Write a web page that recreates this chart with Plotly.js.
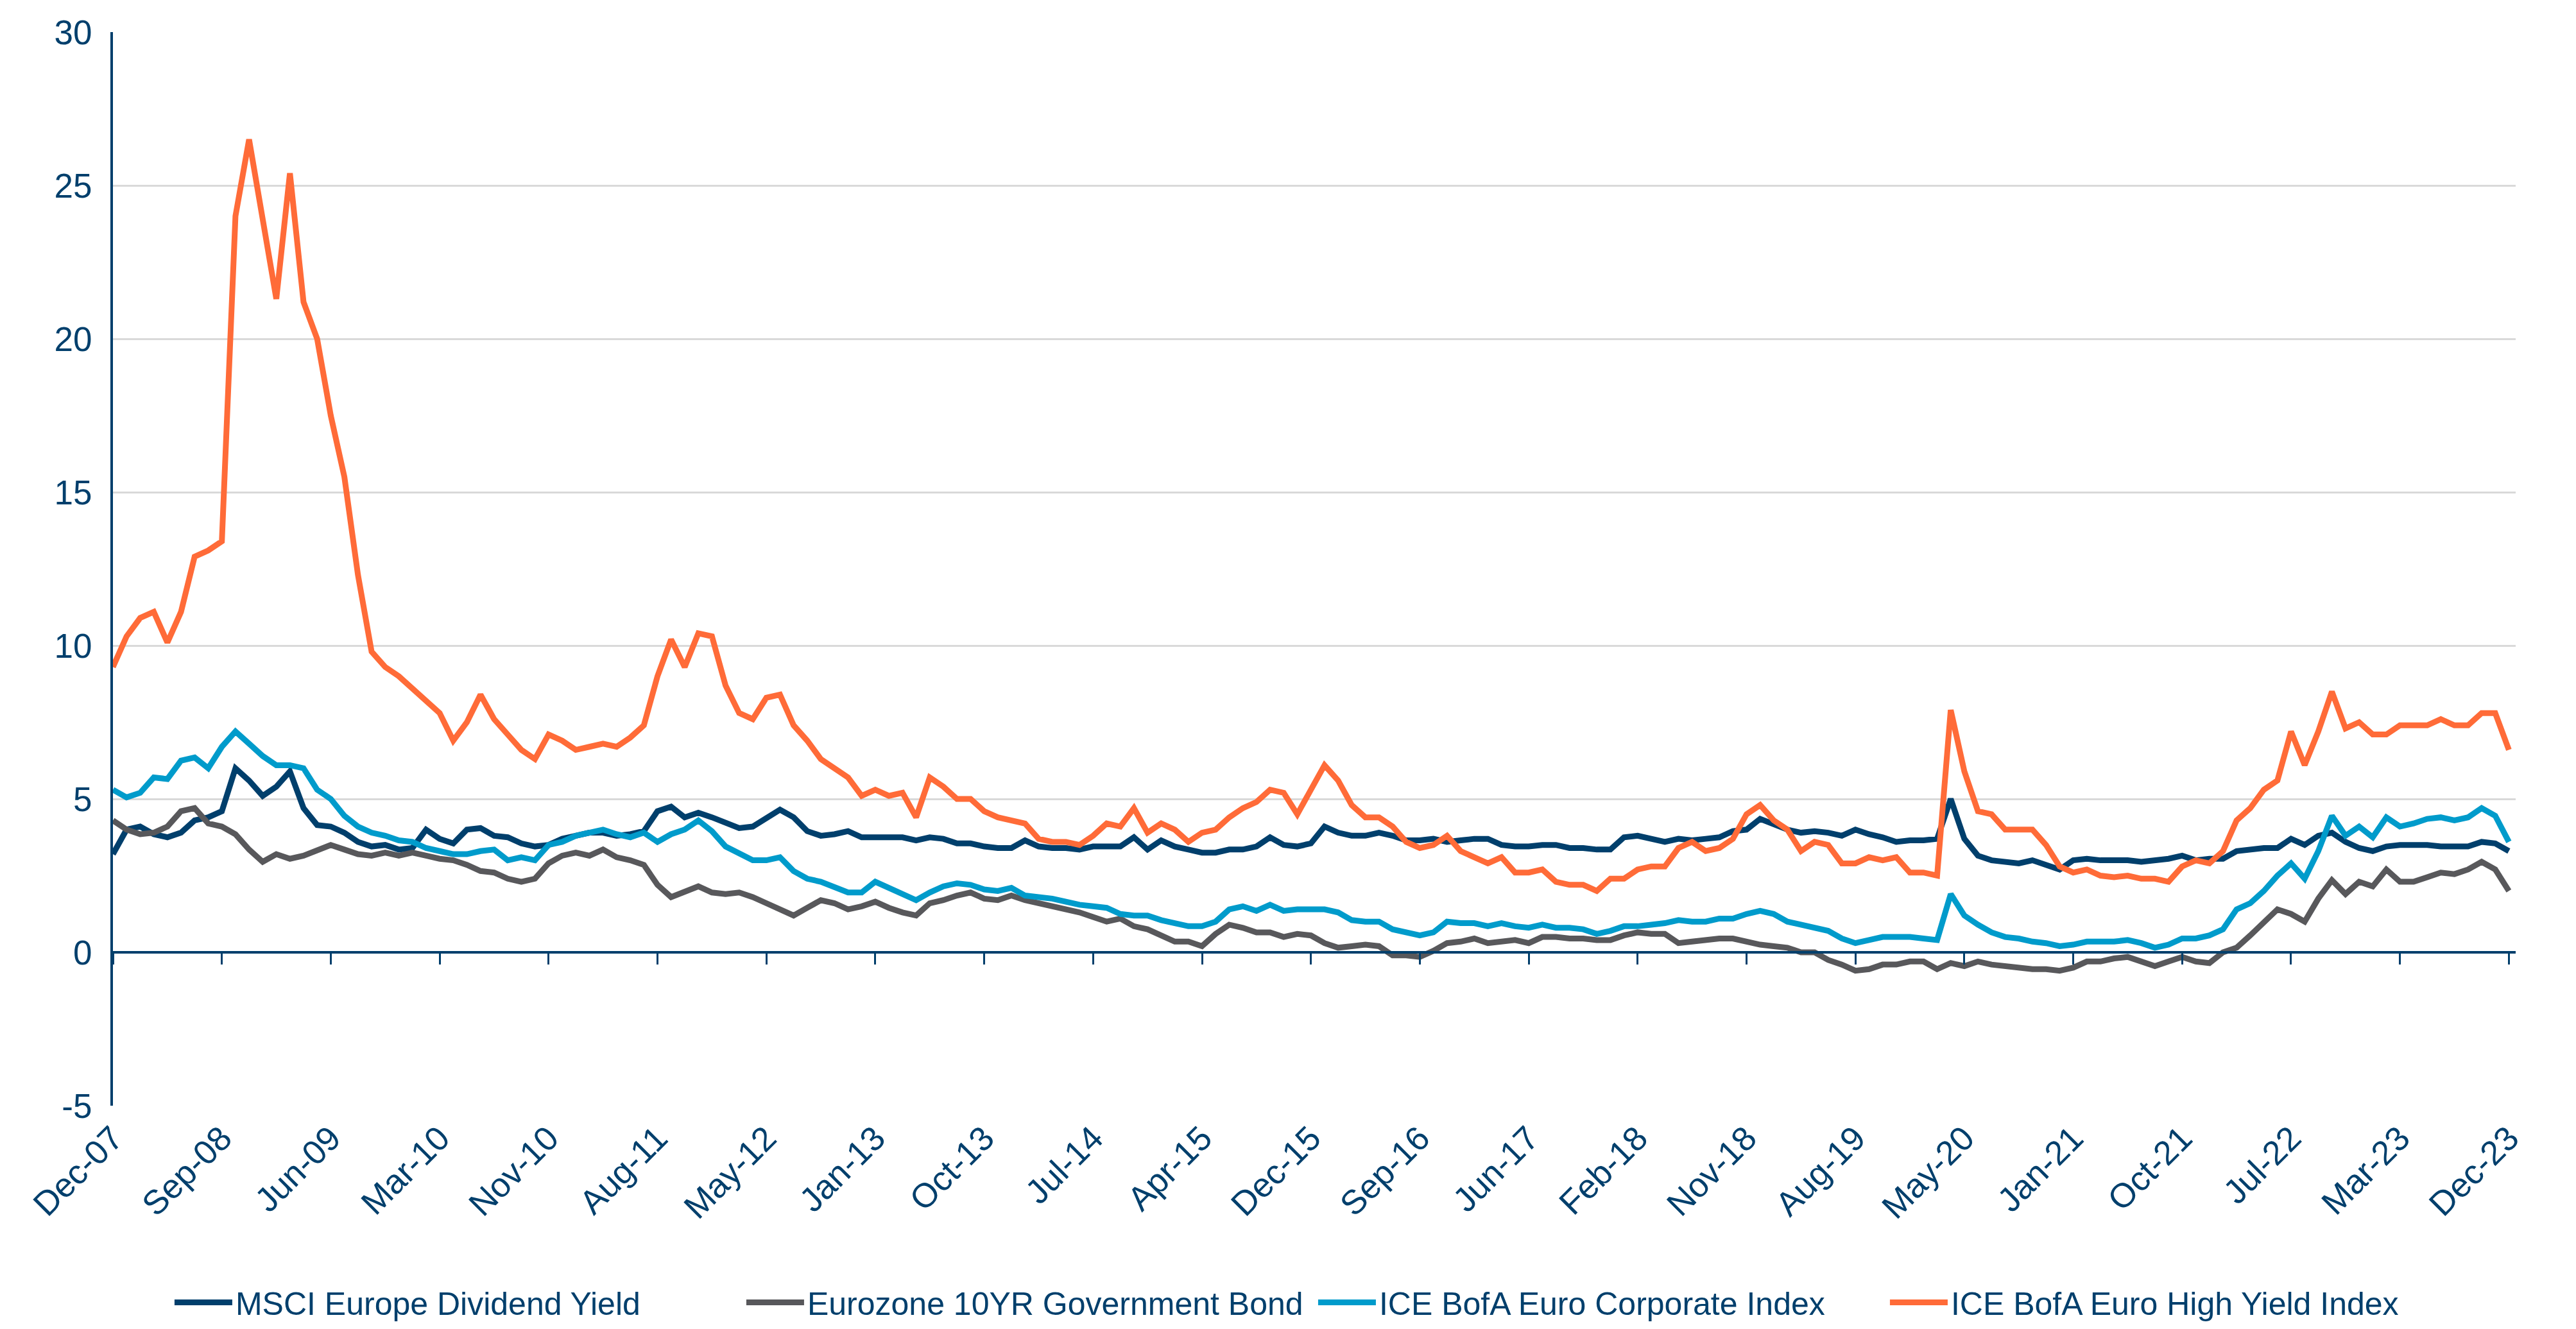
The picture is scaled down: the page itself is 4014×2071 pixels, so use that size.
<!DOCTYPE html>
<html>
<head>
<meta charset="utf-8">
<script src="https://cdn.plot.ly/plotly-3.0.1.min.js"></script>
<style>
  html, body { margin: 0; padding: 0; background: #ffffff; }
  #chart { width: 4014px; height: 2071px; }
</style>
</head>
<body>
<div id="chart"></div>
<script>
// Tick labels (one every 8 observations)
const tickLabels = ['Dec-07','Sep-08','Jun-09','Mar-10','Nov-10','Aug-11','May-12','Jan-13','Oct-13','Jul-14',
  'Apr-15','Dec-15','Sep-16','Jun-17','Feb-18','Nov-18','Aug-19','May-20','Jan-21','Oct-21','Jul-22','Mar-23','Dec-23'];

// Series names
const seriesNames = ['MSCI Europe Dividend Yield','Eurozone 10YR Government Bond','ICE BofA Euro Corporate Index','ICE BofA Euro High Yield Index'];

// MSCI Europe Dividend Yield (%)
const msciDividend = [
  3.2, 4.0, 4.1, 3.85, 3.75, 3.9, 4.3, 4.4,
  4.6, 6.0, 5.6, 5.1, 5.4, 5.9, 4.7, 4.15,
  4.1, 3.9, 3.6, 3.45, 3.5, 3.35, 3.4, 4.0,
  3.7, 3.55, 4.0, 4.05, 3.8, 3.75, 3.55, 3.45,
  3.5, 3.7, 3.8, 3.9, 3.9, 3.8, 3.85, 3.95,
  4.6, 4.75, 4.4, 4.55, 4.4, 4.2, 4.05, 4.1,
  4.35, 4.65, 4.4, 3.95, 3.8, 3.85, 3.95, 3.75,
  3.75, 3.75, 3.75, 3.65, 3.75, 3.7, 3.55, 3.55,
  3.45, 3.4, 3.4, 3.65, 3.45, 3.4, 3.4, 3.35,
  3.45, 3.45, 3.45, 3.75, 3.35, 3.65, 3.45, 3.35,
  3.25, 3.25, 3.35, 3.35, 3.45, 3.75, 3.5, 3.45,
  3.55, 4.1, 3.9, 3.8, 3.8, 3.9, 3.8, 3.65,
  3.65, 3.7, 3.6, 3.65, 3.7, 3.7, 3.5, 3.45,
  3.45, 3.5, 3.5, 3.4, 3.4, 3.35, 3.35, 3.75,
  3.8, 3.7, 3.6, 3.7, 3.65, 3.7, 3.75, 3.95,
  4.0, 4.35, 4.15, 4.0, 3.9, 3.95, 3.9, 3.8,
  4.0, 3.85, 3.75, 3.6, 3.65, 3.65, 3.7, 5.0,
  3.7, 3.15, 3.0, 2.95, 2.9, 3.0, 2.85, 2.7,
  3.0, 3.05, 3.0, 3.0, 3.0, 2.95, 3.0, 3.05,
  3.15, 3.0, 3.05, 3.05, 3.3, 3.35, 3.4, 3.4,
  3.7, 3.5, 3.8, 3.9, 3.6, 3.4, 3.3, 3.45,
  3.5, 3.5, 3.5, 3.45, 3.45, 3.45, 3.6, 3.55,
  3.3
];

// Eurozone 10YR Government Bond yield (%)
const euro10y = [
  4.3, 4.0, 3.85, 3.9, 4.1, 4.6, 4.7, 4.2,
  4.1, 3.85, 3.35, 2.95, 3.2, 3.05, 3.15, 3.35,
  3.5, 3.35, 3.2, 3.15, 3.25, 3.15, 3.25, 3.15,
  3.05, 3.0, 2.85, 2.65, 2.6, 2.4, 2.3, 2.4,
  2.9, 3.15, 3.25, 3.15, 3.35, 3.1, 3.0, 2.85,
  2.2, 1.8, 2.0, 2.15, 1.95, 1.9, 1.95, 1.8,
  1.6, 1.4, 1.2, 1.45, 1.7, 1.6, 1.4, 1.5,
  1.65, 1.45, 1.3, 1.2, 1.6, 1.7, 1.85, 1.95,
  1.75, 1.7, 1.85, 1.7, 1.6, 1.5, 1.4, 1.3,
  1.15, 1.0, 1.1, 0.85, 0.75, 0.55, 0.35, 0.35,
  0.2, 0.6, 0.9, 0.8, 0.65, 0.65, 0.5, 0.6,
  0.55, 0.3, 0.15, 0.2, 0.25, 0.2, -0.1, -0.1,
  -0.15, 0.05, 0.3, 0.35, 0.45, 0.3, 0.35, 0.4,
  0.3, 0.5, 0.5, 0.45, 0.45, 0.4, 0.4, 0.55,
  0.65, 0.6, 0.6, 0.3, 0.35, 0.4, 0.45, 0.45,
  0.35, 0.25, 0.2, 0.15, 0.0, 0.0, -0.25, -0.4,
  -0.6, -0.55, -0.4, -0.4, -0.3, -0.3, -0.55, -0.35,
  -0.45, -0.3, -0.4, -0.45, -0.5, -0.55, -0.55, -0.6,
  -0.5, -0.3, -0.3, -0.2, -0.15, -0.3, -0.45, -0.3,
  -0.15, -0.3, -0.35, 0.0, 0.15, 0.55, 1.0, 1.4,
  1.25, 1.0, 1.75, 2.35, 1.9, 2.3, 2.15, 2.7,
  2.3, 2.3, 2.45, 2.6, 2.55, 2.7, 2.95, 2.7,
  2.0
];

// ICE BofA Euro Corporate Index yield (%)
const euroCorp = [
  5.3, 5.05, 5.2, 5.7, 5.65, 6.25, 6.35, 6.0,
  6.7, 7.2, 6.8, 6.4, 6.1, 6.1, 6.0, 5.3,
  5.0, 4.45, 4.1, 3.9, 3.8, 3.65, 3.6, 3.4,
  3.3, 3.2, 3.2, 3.3, 3.35, 3.0, 3.1, 3.0,
  3.5, 3.6, 3.8, 3.9, 4.0, 3.85, 3.75, 3.9,
  3.6, 3.85, 4.0, 4.3, 3.95, 3.45, 3.2, 3.0,
  3.0, 3.1, 2.65, 2.4, 2.3, 2.1, 1.95, 1.95,
  2.3, 2.1, 1.9, 1.7, 1.95, 2.15, 2.25, 2.2,
  2.05, 2.0, 2.1, 1.85, 1.8, 1.75, 1.65, 1.55,
  1.5, 1.45, 1.25, 1.2, 1.2, 1.05, 0.95, 0.85,
  0.85, 1.0, 1.4, 1.5, 1.35, 1.55, 1.35, 1.4,
  1.4, 1.4, 1.3, 1.05, 1.0, 1.0, 0.75, 0.65,
  0.55, 0.65, 1.0, 0.95, 0.95, 0.85, 0.95, 0.85,
  0.8, 0.9, 0.8, 0.8, 0.75, 0.6, 0.7, 0.85,
  0.85, 0.9, 0.95, 1.05, 1.0, 1.0, 1.1, 1.1,
  1.25, 1.35, 1.25, 1.0, 0.9, 0.8, 0.7, 0.45,
  0.3, 0.4, 0.5, 0.5, 0.5, 0.45, 0.4, 1.9,
  1.2, 0.9, 0.65, 0.5, 0.45, 0.35, 0.3, 0.2,
  0.25, 0.35, 0.35, 0.35, 0.4, 0.3, 0.15, 0.25,
  0.45, 0.45, 0.55, 0.75, 1.4, 1.6, 2.0, 2.5,
  2.9, 2.4, 3.3, 4.45, 3.8, 4.1, 3.75, 4.4,
  4.1, 4.2, 4.35, 4.4, 4.3, 4.4, 4.7, 4.45,
  3.6
];

// ICE BofA Euro High Yield Index yield (%)
const euroHighYield = [
  9.3, 10.3, 10.9, 11.1, 10.1, 11.1, 12.9, 13.1,
  13.4, 24.0, 26.5, 24.0, 21.3, 25.4, 21.2, 20.0,
  17.5, 15.5, 12.3, 9.8, 9.3, 9.0, 8.6, 8.2,
  7.8, 6.9, 7.5, 8.4, 7.6, 7.1, 6.6, 6.3,
  7.1, 6.9, 6.6, 6.7, 6.8, 6.7, 7.0, 7.4,
  9.0, 10.2, 9.3, 10.4, 10.3, 8.7, 7.8, 7.6,
  8.3, 8.4, 7.4, 6.9, 6.3, 6.0, 5.7, 5.1,
  5.3, 5.1, 5.2, 4.4, 5.7, 5.4, 5.0, 5.0,
  4.6, 4.4, 4.3, 4.2, 3.7, 3.6, 3.6, 3.5,
  3.8, 4.2, 4.1, 4.7, 3.9, 4.2, 4.0, 3.6,
  3.9, 4.0, 4.4, 4.7, 4.9, 5.3, 5.2, 4.5,
  5.3, 6.1, 5.6, 4.8, 4.4, 4.4, 4.1, 3.6,
  3.4, 3.5, 3.8, 3.3, 3.1, 2.9, 3.1, 2.6,
  2.6, 2.7, 2.3, 2.2, 2.2, 2.0, 2.4, 2.4,
  2.7, 2.8, 2.8, 3.4, 3.6, 3.3, 3.4, 3.7,
  4.5, 4.8, 4.3, 4.0, 3.3, 3.6, 3.5, 2.9,
  2.9, 3.1, 3.0, 3.1, 2.6, 2.6, 2.5, 7.9,
  5.9, 4.6, 4.5, 4.0, 4.0, 4.0, 3.5, 2.8,
  2.6, 2.7, 2.5, 2.45, 2.5, 2.4, 2.4, 2.3,
  2.8, 3.0, 2.9, 3.3, 4.3, 4.7, 5.3, 5.6,
  7.2, 6.1, 7.2, 8.5, 7.3, 7.5, 7.1, 7.1,
  7.4, 7.4, 7.4, 7.6, 7.4, 7.4, 7.8, 7.8,
  6.6
];

// Y axis ticks
const yTickVals = [-5, 0, 5, 10, 15, 20, 25, 30];

// ---- styling ----
const NAVY = '#003f6c';
const COLORS = ['#003f6c', '#58585b', '#009bcb', '#ff6b38'];
const FONT = 'Liberation Sans, Arial, Helvetica, sans-serif';
const OBS_PER_LABEL = 8;

const xIdx = msciDividend.map((_, i) => i);
const tickVals = tickLabels.map((_, i) => i * OBS_PER_LABEL);
const yRange = [yTickVals[0], yTickVals[yTickVals.length - 1]];
const xRange = [0, tickVals[tickVals.length - 1] + 0.5];

const seriesData = [msciDividend, euro10y, euroCorp, euroHighYield];
const traces = seriesData.map((vals, i) => ({
  type: 'scatter',
  mode: 'lines',
  name: seriesNames[i],
  x: xIdx,
  y: vals,
  xaxis: i === seriesData.length - 1 ? 'x2' : 'x',
  yaxis: 'y',
  line: { color: COLORS[i], width: 9, shape: 'linear' },
  hoverinfo: 'skip'
}));

const layout = {
  width: 4014,
  height: 2071,
  paper_bgcolor: '#ffffff',
  plot_bgcolor: '#ffffff',
  font: { family: FONT, color: NAVY, size: 52 },
  margin: { l: 176, r: 94, t: 50, b: 348, pad: 0 },
  showlegend: true,
  legend: {
    orientation: 'h',
    xref: 'container', yref: 'container',
    x: 0.0665, xanchor: 'left',
    y: 0.02, yanchor: 'middle',
    font: { family: FONT, size: 50, color: NAVY },
    itemwidth: 90,
    entrywidth: 786, entrywidthmode: 'pixels',
    traceorder: 'normal',
    bgcolor: 'rgba(0,0,0,0)'
  },
  xaxis: {
    range: xRange,
    tickmode: 'array',
    tickvals: tickVals,
    ticktext: tickLabels,
    tickangle: -45,
    ticks: '',
    showline: false,
    showgrid: false,
    zeroline: false,
    ticklabelstandoff: 8,
    tickfont: { family: FONT, size: 53, color: NAVY }
  },
  xaxis2: {
    matches: 'x',
    overlaying: 'x',
    anchor: 'free',
    position: (0 - yRange[0]) / (yRange[1] - yRange[0]),
    tickmode: 'array',
    tickvals: tickVals,
    showticklabels: false,
    ticks: 'outside',
    ticklen: 17,
    tickwidth: 3,
    tickcolor: NAVY,
    showline: true,
    linecolor: NAVY,
    linewidth: 4,
    showgrid: false,
    zeroline: false
  },
  yaxis: {
    range: yRange,
    tickmode: 'array',
    tickvals: yTickVals,
    ticktext: yTickVals.map(v => String(v)),
    showgrid: true,
    gridcolor: '#d9d9d9',
    gridwidth: 3,
    zeroline: false,
    showline: true,
    linecolor: NAVY,
    linewidth: 4,
    ticks: '',
    ticklabelstandoff: 18,
    tickfont: { family: FONT, size: 53, color: NAVY }
  }
};

Plotly.newPlot('chart', traces, layout, { staticPlot: true, displayModeBar: false });
</script>
</body>
</html>
